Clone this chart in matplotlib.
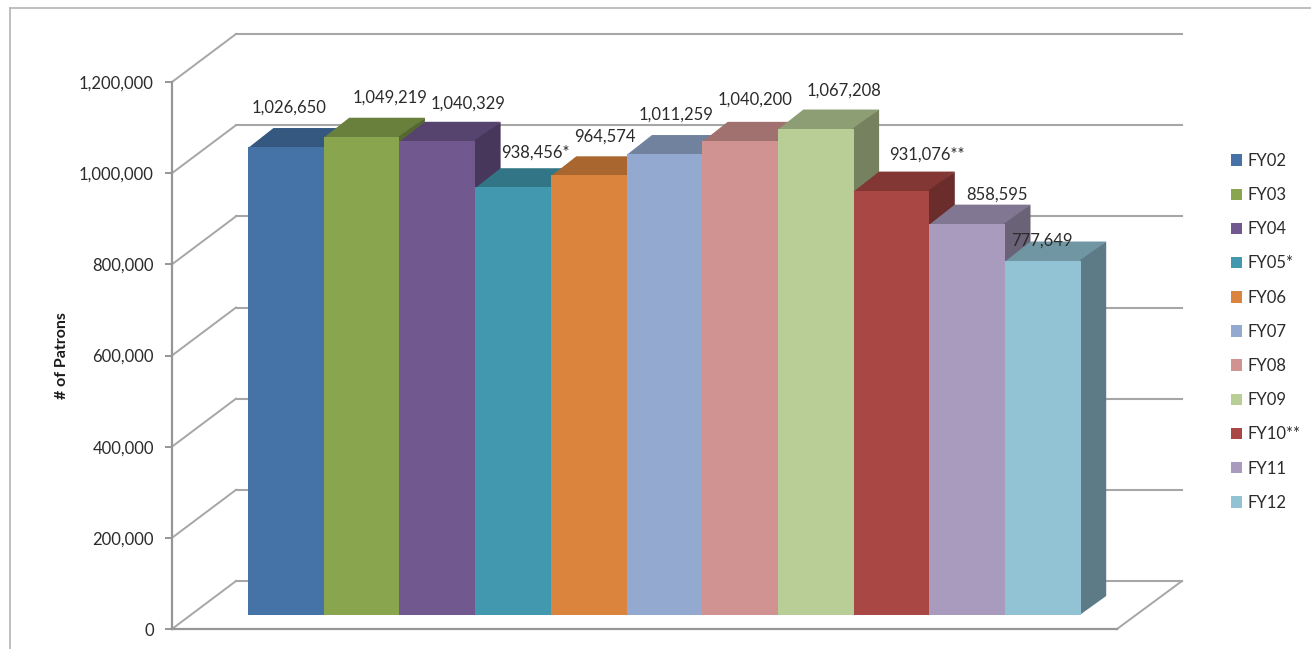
import matplotlib
matplotlib.use('Agg')
import matplotlib.pyplot as plt
from matplotlib.lines import Line2D
from matplotlib.ticker import FuncFormatter

plt.rcParams['font.family'] = ['Lato', 'DejaVu Sans']

# === DATA === #
years = ['FY02', 'FY03', 'FY04', 'FY05*', 'FY06', 'FY07', 'FY08', 'FY09', 'FY10**', 'FY11', 'FY12']
patrons = [1026650, 1049219, 1040329, 938456, 964574, 1011259, 1040200, 1067208, 931076, 858595, 777649]
value_labels = ['1,026,650', '1,049,219', '1,040,329', '938,456*', '964,574', '1,011,259',
                '1,040,200', '1,067,208', '931,076**', '858,595', '777,649']
colors = ['#4572A7', '#89A54E', '#71588F', '#4198AF', '#DB843D', '#93A9CF',
          '#D19392', '#B9CD96', '#A94744', '#A99BBD', '#92C3D4']
y_ticks = [0, 200000, 400000, 600000, 800000, 1000000, 1200000]

# label nudges from the top of each bar, in pixels
label_dx = [3, 28, 31, 22, 16, 12, 15, 28, 35, 30, -1]
label_dy = [39, 39, 37, 35, 39, 39, 41, 38, 36, 29, 20]

# === SETTING UP === #
W, H = 1311, 649
bar_px = 75.7
val_px = 547 / 1200000
left, right, bottom, top = 172, 1182, 629, 82
first_bar = 248

fig = plt.figure(figsize=(W / 100, H / 100), dpi=100)
ax = fig.add_axes([left / W, (H - bottom) / H, (right - left) / W, (bottom - top) / H])
ax.set_xlim((left - first_bar) / bar_px, (right - first_bar) / bar_px)
ax.set_ylim(0, 1200000)
ax.patch.set_alpha(0)


def px_x(n):
    return n / bar_px


def px_y(n):
    return n / val_px


grid_col = '#a6a6a6'
x_axis = (left - first_bar) / bar_px

# back wall and side wall lines
for t in y_ticks:
    ax.plot([x_axis, x_axis + px_x(64)], [t, t + px_y(48)], color=grid_col, lw=1.4,
            clip_on=False, zorder=1)
    ax.plot([x_axis + px_x(64), x_axis + px_x(1010)], [t + px_y(48), t + px_y(48)],
            color=grid_col, lw=1.5, clip_on=False, zorder=1)

# right edge of the floor
ax.plot([x_axis + px_x(945), x_axis + px_x(1010)], [0, px_y(48)], color=grid_col, lw=1.4,
        clip_on=False, zorder=1)

# === PLOTING === #
lift = px_y(14)
dx = px_x(25.5)
dy = px_y(19)
# faces tuck 1px behind the front so no seam shows
tuck_x = px_x(1)
tuck_y = px_y(1)

for i in range(len(years)):
    v = patrons[i]
    z = 3 + i
    r, g, b = matplotlib.colors.to_rgb(colors[i])
    ax.bar(i, v, width=1, bottom=lift, align='edge', color=colors[i], label=years[i],
           zorder=z + 0.5, clip_on=False)
    # top face
    ax.fill([i, i + 1, i + 1 + dx, i + dx],
            [v + lift - tuck_y, v + lift - tuck_y, v + lift + dy, v + lift + dy],
            color=(r * 0.77, g * 0.77, b * 0.77), lw=0, clip_on=False, zorder=z)
    # side face
    ax.fill([i + 1 - tuck_x, i + 1 + dx, i + 1 + dx, i + 1 - tuck_x],
            [lift, lift + dy, v + lift + dy, v + lift],
            color=(r * 0.63, g * 0.63, b * 0.63), lw=0, clip_on=False, zorder=z + 0.2)
    ax.annotate(value_labels[i], (i + 0.5, v + lift), xytext=(label_dx[i] * 0.72, label_dy[i] * 0.72),
                textcoords='offset points', ha='center', va='center', fontsize=12,
                color='#2b2b2b', zorder=30)

for side in ['top', 'right']:
    ax.spines[side].set_visible(False)
ax.spines['left'].set_color('#969696')
ax.spines['left'].set_linewidth(1.6)
ax.spines['bottom'].set_color('#969696')
ax.spines['bottom'].set_linewidth(1.6)
ax.spines['bottom'].set_bounds(x_axis, x_axis + px_x(945))

ax.set_xticks([])
ax.set_yticks(y_ticks)
ax.yaxis.set_major_formatter(FuncFormatter(lambda v, p: f'{int(v):,}'))
ax.tick_params(axis='y', length=5, width=1.4, color='#969696', labelsize=12,
               labelcolor='#2b2b2b', pad=8)
ax.set_ylabel('# of Patrons', fontsize=11.5, fontweight='bold', color='#1a1a1a', labelpad=7)

ax.legend(loc='upper left', bbox_to_anchor=(1231 / W, (H - 153) / H), bbox_transform=fig.transFigure,
          frameon=False, fontsize=12, labelcolor='#2b2b2b', handlelength=0.68, handleheight=0.68,
          handletextpad=0.3, labelspacing=1.09, borderpad=0, borderaxespad=0)

# chart frame
frame = '#b4b4b4'
fig.add_artist(Line2D([9.5 / W, 9.5 / W], [0, (H - 7.5) / H], color=frame, lw=1.2))
fig.add_artist(Line2D([9.5 / W, 1], [(H - 7.5) / H, (H - 7.5) / H], color=frame, lw=1.2))

fig.savefig('out.png', dpi=100)
